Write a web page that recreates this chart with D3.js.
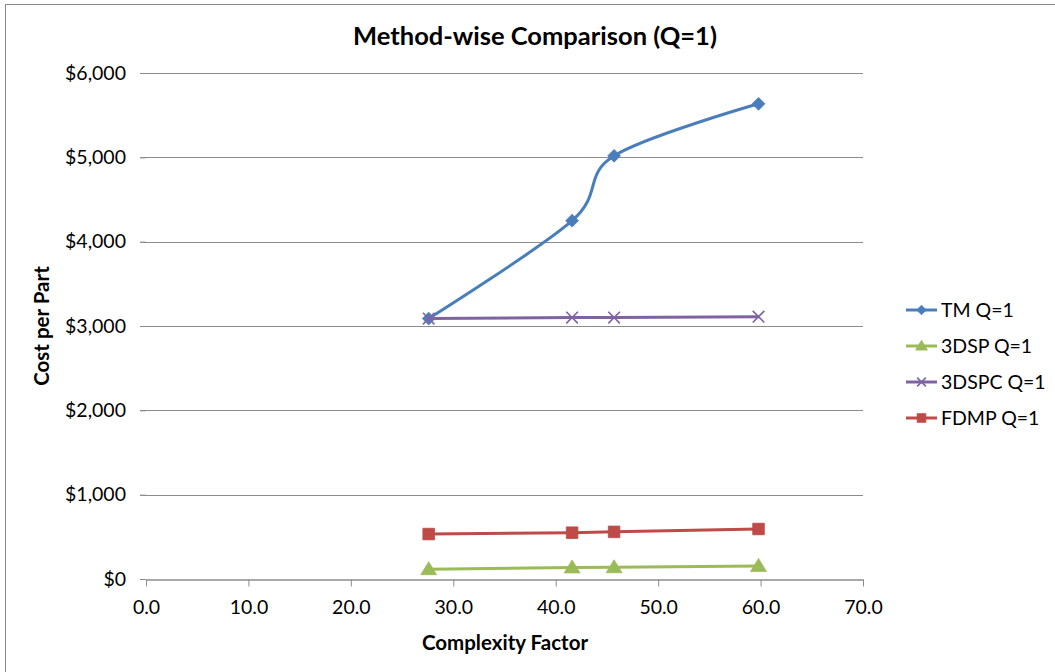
<!DOCTYPE html>
<html>
<head>
<meta charset="utf-8">
<script src="https://cdn.jsdelivr.net/npm/d3@7"></script>
<style>
  html, body { margin: 0; padding: 0; background: #ffffff; }
  svg { display: block; }
  text { font-family: Lato, "Open Sans", "Liberation Sans", sans-serif; fill: #000; }
</style>
</head>
<body>
<svg id="chart" width="1055" height="672"></svg>
<script>
// Complexity factor of each part (shared x values)
const complexity = [27.6, 41.6, 45.7, 59.8];

// Cost per part for each manufacturing method
const tmCost     = [3088, 4249, 5018, 5635];
const dspCost    = [115, 136, 138, 154];
const dspcCost   = [3088, 3100, 3100, 3110];
const fdmpCost   = [533, 549, 559, 593];

const seriesNames = ["TM Q=1", "3DSP Q=1", "3DSPC Q=1", "FDMP Q=1"];
const seriesColors = ["#4a7ebb", "#9bbb59", "#7f63a1", "#be4b48"];
const seriesMarkers = ["diamond", "triangle", "cross", "square"];

const xTicks = [0, 10, 20, 30, 40, 50, 60, 70];
const yTicks = [0, 1000, 2000, 3000, 4000, 5000, 6000];

const titleText = "Method-wise Comparison (Q=1)";
const xTitle = "Complexity Factor";
const yTitle = "Cost per Part";

const svg = d3.select("#chart");
const W = 1055, H = 672;

// chart area border (top and left edges visible)
svg.append("path")
  .attr("d", `M5.5,${H} V4.5 H${W}`)
  .attr("fill", "none")
  .attr("stroke", "#868686")
  .attr("stroke-width", 1);

const plot = { left: 146, right: 863, top: 73, bottom: 579 };

const x = d3.scaleLinear().domain([0, 70]).range([plot.left, plot.right]);
const y = d3.scaleLinear().domain([0, 6000]).range([plot.bottom, plot.top]);

// horizontal gridlines
svg.append("g")
  .selectAll("line")
  .data(yTicks.filter(d => d > 0))
  .join("line")
  .attr("x1", plot.left - 6).attr("x2", plot.right)
  .attr("y1", d => Math.round(y(d)) + 0.5).attr("y2", d => Math.round(y(d)) + 0.5)
  .attr("stroke", "#8c8c8c")
  .attr("stroke-width", 1);

// y axis
const yAxis = d3.axisLeft(y)
  .tickValues(yTicks)
  .tickFormat(d3.format("$,"))
  .tickSize(6)
  .tickPadding(14);
const gy = svg.append("g")
  .attr("transform", `translate(${plot.left},0)`)
  .call(yAxis);
gy.select(".domain").remove();
gy.selectAll(".tick line").attr("stroke", "#8c8c8c");
gy.selectAll(".tick text")
  .attr("font-size", 19.5)
  .style("font-family", "Lato, 'Open Sans', sans-serif")
  .attr("fill", "#000");

// x axis
const xAxis = d3.axisBottom(x)
  .tickValues(xTicks)
  .tickFormat(d3.format(".1f"))
  .tickSize(7)
  .tickSizeOuter(0)
  .tickPadding(14);
const gx = svg.append("g")
  .attr("transform", `translate(0,${plot.bottom + 0.5})`)
  .call(xAxis);
gx.select(".domain").attr("stroke", "#8c8c8c").attr("stroke-width", 1.5);
gx.selectAll(".tick line").attr("stroke", "#8c8c8c");
gx.selectAll(".tick text")
  .attr("font-size", 19.5)
  .style("font-family", "Lato, 'Open Sans', sans-serif")
  .attr("fill", "#000");

// titles
svg.append("text")
  .attr("x", 535).attr("y", 45)
  .attr("text-anchor", "middle")
  .attr("font-size", 25.5)
  .attr("font-weight", "bold")
  .text(titleText);

svg.append("text")
  .attr("x", 505).attr("y", 650)
  .attr("text-anchor", "middle")
  .attr("font-size", 20.5)
  .attr("font-weight", "bold")
  .text(xTitle);

svg.append("text")
  .attr("transform", `translate(49,${(plot.top + plot.bottom) / 2}) rotate(-90)`)
  .attr("text-anchor", "middle")
  .attr("font-size", 20.5)
  .attr("font-weight", "bold")
  .text(yTitle);

// marker shapes
function markerPath(kind, s) {
  switch (kind) {
    case "diamond":  return `M0,${-s}L${s},0L0,${s}L${-s},0Z`;
    case "square":   return `M${-s},${-s}H${s}V${s}H${-s}Z`;
    case "triangle": return `M0,${-s * 1.05}L${s * 1.1},${s * 0.75}H${-s * 1.1}Z`;
    case "cross":    return `M${-s},${-s}L${s},${s}M${-s},${s}L${s},${-s}`;
  }
}
const markerSize = { diamond: 6.4, square: 5.8, triangle: 7.2, cross: 5.8 };

function drawMarker(g, kind, color, px, py, scale) {
  const s = markerSize[kind] * (scale || 1);
  const p = g.append("path")
    .attr("d", markerPath(kind, s))
    .attr("transform", `translate(${px},${py})`);
  if (kind === "cross") {
    p.attr("fill", "none").attr("stroke", color).attr("stroke-width", 1.6);
  } else {
    p.attr("fill", color).attr("stroke", color).attr("stroke-width", 0.8);
  }
}

const allSeries = [tmCost, dspCost, dspcCost, fdmpCost];

allSeries.forEach((vals, i) => {
  const pts = complexity.map((c, j) => [x(c), y(vals[j])]);
  const line = d3.line().curve(i === 0 ? d3.curveCardinal.tension(0) : d3.curveLinear);
  const g = svg.append("g");
  g.append("path")
    .attr("d", line(pts))
    .attr("fill", "none")
    .attr("stroke", seriesColors[i])
    .attr("stroke-width", 3)
    .attr("stroke-linejoin", "round")
    .attr("stroke-linecap", "round");
  pts.forEach(p => drawMarker(g, seriesMarkers[i], seriesColors[i], p[0], p[1]));
});

// legend
const legendY = [310, 346, 382, 418];
const lg = svg.append("g");
seriesNames.forEach((name, i) => {
  const ly = legendY[i];
  lg.append("line")
    .attr("x1", 906).attr("x2", 937)
    .attr("y1", ly).attr("y2", ly)
    .attr("stroke", seriesColors[i])
    .attr("stroke-width", 3);
  drawMarker(lg, seriesMarkers[i], seriesColors[i], 921.5, ly, 0.75);
  lg.append("text")
    .attr("x", 941).attr("y", ly)
    .attr("dy", "0.35em")
    .attr("font-size", 19.5)
    .text(name);
});
</script>
</body>
</html>
